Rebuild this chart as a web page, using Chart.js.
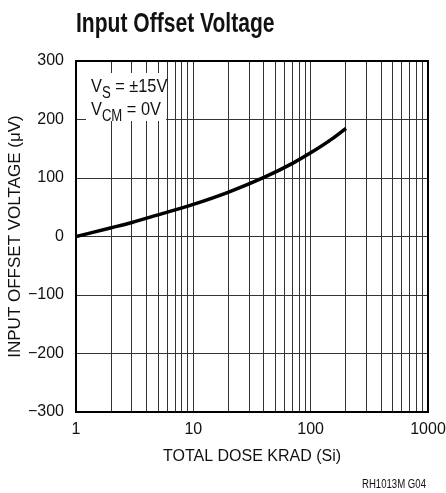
<!DOCTYPE html>
<html>
<head>
<meta charset="utf-8">
<script src="https://cdn.jsdelivr.net/npm/chart.js@4.4.0/dist/chart.umd.min.js"></script>
<style>
  html, body { margin: 0; padding: 0; background: #fff; }
  #wrap { width: 446px; height: 493px; }
</style>
</head>
<body>
<div id="wrap"><canvas id="chart" width="446" height="493"></canvas></div>
<script>
// data
const doseKrad = [1, 2, 3, 5, 10, 20, 40, 70, 100, 150, 200];
const offsetUv = [0, 15, 24, 37, 55, 76, 101, 125, 143, 166, 185];

// axis ticks
const xGridValues = [];
for (const d of [1, 10, 100]) {
    for (let k = 1; k < 10; k++) xGridValues.push(k * d);
}
xGridValues.push(1000);
const xLabelValues = [1, 10, 100, 1000];
const yTickValues = [-300, -200, -100, 0, 100, 200, 300];

const FONT = '"Liberation Sans", Arial, Helvetica, sans-serif';

// draws text squeezed horizontally, returns the advance
function narrowText(ctx, text, x, y, size, weight, sx) {
    ctx.save();
    ctx.font = (weight ? weight + ' ' : '') + size + 'px ' + FONT;
    ctx.translate(x, y);
    ctx.scale(sx, 1);
    ctx.fillText(text, 0, 0);
    const w = ctx.measureText(text).width * sx;
    ctx.restore();
    return w;
}

// title, frame, conditions box and figure code
const extras = {
    id: 'extras',
    afterDraw(chart) {
        const ctx = chart.ctx;
        const a = chart.chartArea;
        ctx.save();
        ctx.strokeStyle = '#000';
        ctx.lineWidth = 2;
        ctx.strokeRect(a.left, a.top, a.right - a.left, a.bottom - a.top);

        ctx.fillStyle = '#111';
        ctx.textBaseline = 'alphabetic';
        ctx.textAlign = 'left';
        narrowText(ctx, 'Input Offset Voltage', 76, 31.5, 27, 'bold', 0.78);

        // conditions label
        ctx.fillStyle = '#fff';
        ctx.fillRect(86, 73, 80, 48);
        ctx.fillStyle = '#111';
        let x = 91;
        x += narrowText(ctx, 'V', x, 92, 19, '', 0.86);
        x += narrowText(ctx, 'S', x, 98, 16, '', 0.82);
        narrowText(ctx, ' = \u00b115V', x, 92, 19, '', 0.86);
        x = 91;
        x += narrowText(ctx, 'V', x, 115, 19, '', 0.86);
        x += narrowText(ctx, 'CM', x, 121, 16, '', 0.82);
        narrowText(ctx, ' = 0V', x, 115, 19, '', 0.86);

        ctx.textAlign = 'right';
        narrowText(ctx, 'RH1013M G04', 426, 488, 12, '', 0.8);
        ctx.restore();
    }
};

new Chart(document.getElementById('chart'), {
    type: 'line',
    data: {
        datasets: [{
            data: doseKrad.map((d, i) => ({ x: d, y: offsetUv[i] })),
            borderColor: '#000',
            borderWidth: 3.5,
            pointRadius: 0,
            cubicInterpolationMode: 'monotone',
            fill: false
        }]
    },
    options: {
        responsive: false,
        animation: false,
        devicePixelRatio: 1,
        layout: { padding: { top: 61, right: 18, bottom: 0, left: 0 } },
        plugins: {
            legend: { display: false },
            tooltip: { enabled: false },
            title: { display: false }
        },
        scales: {
            x: {
                type: 'logarithmic',
                min: 1,
                max: 1000,
                afterBuildTicks: s => { s.ticks = xGridValues.map(v => ({ value: v })); },
                afterFit: s => { s.height = 81; s.paddingLeft = 0; s.paddingRight = 0; },
                grid: { color: '#333', lineWidth: 1, drawTicks: false },
                border: { display: false },
                ticks: {
                    autoSkip: false,
                    maxRotation: 0,
                    padding: 8,
                    color: '#111',
                    font: { family: FONT, size: 16 },
                    callback: v => xLabelValues.includes(v) ? String(v) : ''
                },
                title: {
                    display: true,
                    text: 'TOTAL DOSE KRAD (Si)',
                    color: '#111',
                    font: { family: FONT, size: 16 },
                    padding: { top: 0, bottom: 27 }
                }
            },
            y: {
                type: 'linear',
                min: -300,
                max: 300,
                afterBuildTicks: s => { s.ticks = yTickValues.map(v => ({ value: v })); },
                afterFit: s => { s.width = 76; s.paddingTop = 0; s.paddingBottom = 0; },
                grid: { color: '#333', lineWidth: 1, drawTicks: false },
                border: { display: false },
                ticks: {
                    padding: 12,
                    color: '#111',
                    font: { family: FONT, size: 16 },
                    callback: v => v < 0 ? '\u2212' + Math.abs(v) : String(v)
                },
                title: {
                    display: true,
                    text: 'INPUT OFFSET VOLTAGE (\u03bcV)',
                    color: '#111',
                    font: { family: FONT, size: 17 },
                    padding: { top: 5, bottom: 0 }
                }
            }
        }
    },
    plugins: [extras]
});
</script>
</body>
</html>
